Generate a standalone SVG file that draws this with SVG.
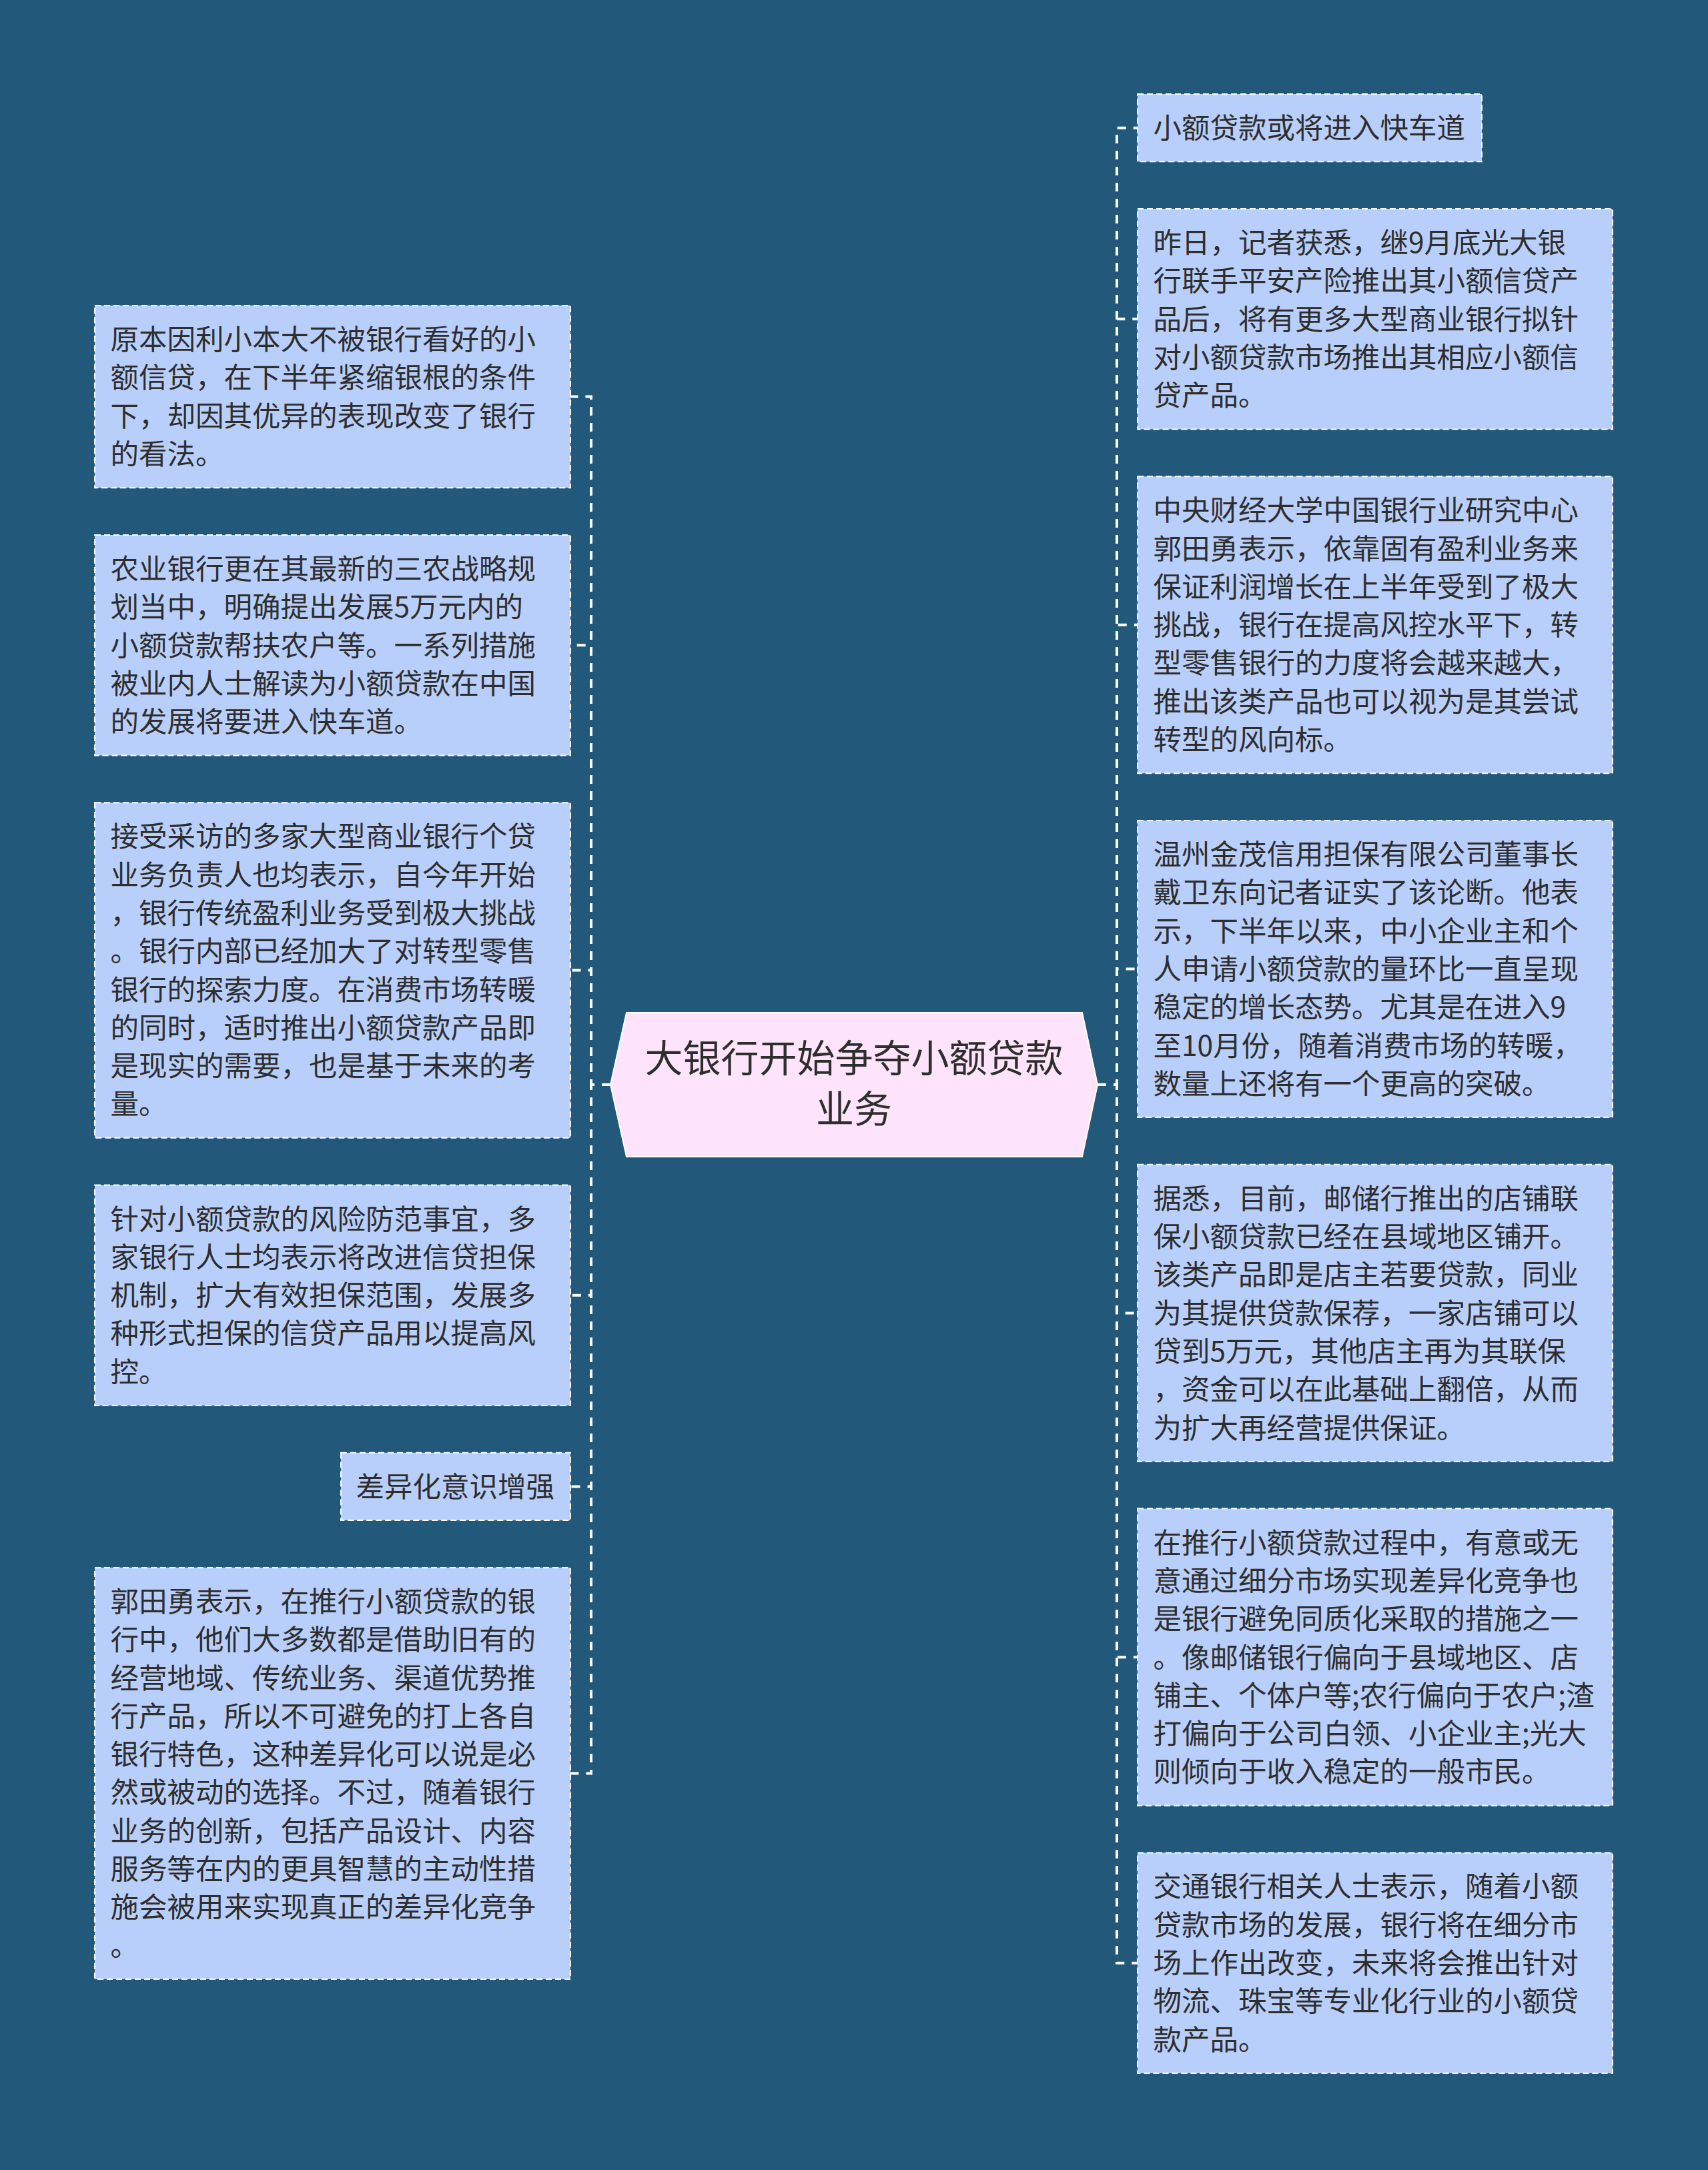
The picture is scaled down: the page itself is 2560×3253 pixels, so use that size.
<svg xmlns="http://www.w3.org/2000/svg" width="2560" height="3253" viewBox="0 0 2560 3253">
<style>
.box{fill:#B9CFFB;stroke:#FFFFFF;stroke-width:2;stroke-dasharray:9 5}
.t{font-family:"Noto Sans CJK SC","Noto Sans",sans-serif;font-size:42.5px;fill:#2E2E2E}
.ct{font-family:"Noto Sans CJK SC","Noto Sans",sans-serif;font-size:57px;fill:#2E2E2E;text-anchor:middle}
.c{fill:none;stroke:#FFFFFF;stroke-width:4;stroke-dasharray:13 11}
</style>
<rect x="0" y="0" width="2560" height="3253" fill="#22587A"/>
<g id="connectors">
<path class="c" d="M915,1626 H886 V594.6 H855"/>
<path class="c" d="M915,1626 H886 V967.3 H855"/>
<path class="c" d="M915,1626 H886 V1454.5 H855"/>
<path class="c" d="M915,1626 H886 V1941.8 H855"/>
<path class="c" d="M915,1626 H886 V2228.5 H855"/>
<path class="c" d="M915,1626 H886 V2658.4 H855"/>
<path class="c" d="M1645,1626 H1674 V191.7 H1705"/>
<path class="c" d="M1645,1626 H1674 V478.3 H1705"/>
<path class="c" d="M1645,1626 H1674 V936.8 H1705"/>
<path class="c" d="M1645,1626 H1674 V1452.6 H1705"/>
<path class="c" d="M1645,1626 H1674 V1968.4 H1705"/>
<path class="c" d="M1645,1626 H1674 V2484.2 H1705"/>
<path class="c" d="M1645,1626 H1674 V2942.7 H1705"/>
</g>
<g id="center">
<polygon points="915,1626 939,1518 1622,1518 1645,1626 1622,1734 939,1734" fill="#FEE4FB" stroke="#FFFFFF" stroke-width="2"/>
<text class="ct" x="1280" y="1607">大银行开始争夺小额贷款</text>
<text class="ct" x="1280" y="1683">业务</text>
</g>
<g id="L1">
<rect class="box" x="142" y="458" width="713" height="273.2"/>
<text class="t" x="165.5" y="524">原本因利小本大不被银行看好的小</text>
<text class="t" x="165.5" y="581.3">额信贷，在下半年紧缩银根的条件</text>
<text class="t" x="165.5" y="638.6">下，却因其优异的表现改变了银行</text>
<text class="t" x="165.5" y="695.9">的看法。</text>
</g>
<g id="L2">
<rect class="box" x="142" y="802" width="713" height="330.5"/>
<text class="t" x="165.5" y="868">农业银行更在其最新的三农战略规</text>
<text class="t" x="165.5" y="925.3">划当中，明确提出发展5万元内的</text>
<text class="t" x="165.5" y="982.6">小额贷款帮扶农户等。一系列措施</text>
<text class="t" x="165.5" y="1039.9">被业内人士解读为小额贷款在中国</text>
<text class="t" x="165.5" y="1097.2">的发展将要进入快车道。</text>
</g>
<g id="L3">
<rect class="box" x="142" y="1203.3" width="713" height="502.4"/>
<text class="t" x="165.5" y="1269.3">接受采访的多家大型商业银行个贷</text>
<text class="t" x="165.5" y="1326.6">业务负责人也均表示，自今年开始</text>
<text class="t" x="165.5" y="1383.9">，银行传统盈利业务受到极大挑战</text>
<text class="t" x="165.5" y="1441.2">。银行内部已经加大了对转型零售</text>
<text class="t" x="165.5" y="1498.5">银行的探索力度。在消费市场转暖</text>
<text class="t" x="165.5" y="1555.8">的同时，适时推出小额贷款产品即</text>
<text class="t" x="165.5" y="1613.1">是现实的需要，也是基于未来的考</text>
<text class="t" x="165.5" y="1670.4">量。</text>
</g>
<g id="L4">
<rect class="box" x="142" y="1776.5" width="713" height="330.5"/>
<text class="t" x="165.5" y="1842.5">针对小额贷款的风险防范事宜，多</text>
<text class="t" x="165.5" y="1899.8">家银行人士均表示将改进信贷担保</text>
<text class="t" x="165.5" y="1957.1">机制，扩大有效担保范围，发展多</text>
<text class="t" x="165.5" y="2014.4">种形式担保的信贷产品用以提高风</text>
<text class="t" x="165.5" y="2071.7">控。</text>
</g>
<g id="L5">
<rect class="box" x="511" y="2177.8" width="344" height="101.3"/>
<text class="t" x="533.5" y="2243.8">差异化意识增强</text>
</g>
<g id="L6">
<rect class="box" x="142" y="2349.9" width="713" height="617"/>
<text class="t" x="165.5" y="2415.9">郭田勇表示，在推行小额贷款的银</text>
<text class="t" x="165.5" y="2473.2">行中，他们大多数都是借助旧有的</text>
<text class="t" x="165.5" y="2530.5">经营地域、传统业务、渠道优势推</text>
<text class="t" x="165.5" y="2587.8">行产品，所以不可避免的打上各自</text>
<text class="t" x="165.5" y="2645.1">银行特色，这种差异化可以说是必</text>
<text class="t" x="165.5" y="2702.4">然或被动的选择。不过，随着银行</text>
<text class="t" x="165.5" y="2759.7">业务的创新，包括产品设计、内容</text>
<text class="t" x="165.5" y="2817">服务等在内的更具智慧的主动性措</text>
<text class="t" x="165.5" y="2874.3">施会被用来实现真正的差异化竞争</text>
<text class="t" x="165.5" y="2931.6">。</text>
</g>
<g id="R1">
<rect class="box" x="1705" y="141" width="516" height="101.3"/>
<text class="t" x="1728.5" y="207">小额贷款或将进入快车道</text>
</g>
<g id="R2">
<rect class="box" x="1705" y="313" width="712" height="330.5"/>
<text class="t" x="1728.5" y="379">昨日，记者获悉，继9月底光大银</text>
<text class="t" x="1728.5" y="436.3">行联手平安产险推出其小额信贷产</text>
<text class="t" x="1728.5" y="493.6">品后，将有更多大型商业银行拟针</text>
<text class="t" x="1728.5" y="550.9">对小额贷款市场推出其相应小额信</text>
<text class="t" x="1728.5" y="608.2">贷产品。</text>
</g>
<g id="R3">
<rect class="box" x="1705" y="714.2" width="712" height="445.1"/>
<text class="t" x="1728.5" y="780.2">中央财经大学中国银行业研究中心</text>
<text class="t" x="1728.5" y="837.5">郭田勇表示，依靠固有盈利业务来</text>
<text class="t" x="1728.5" y="894.8">保证利润增长在上半年受到了极大</text>
<text class="t" x="1728.5" y="952.1">挑战，银行在提高风控水平下，转</text>
<text class="t" x="1728.5" y="1009.4">型零售银行的力度将会越来越大，</text>
<text class="t" x="1728.5" y="1066.7">推出该类产品也可以视为是其尝试</text>
<text class="t" x="1728.5" y="1124">转型的风向标。</text>
</g>
<g id="R4">
<rect class="box" x="1705" y="1230" width="712" height="445.1"/>
<text class="t" x="1728.5" y="1296">温州金茂信用担保有限公司董事长</text>
<text class="t" x="1728.5" y="1353.3">戴卫东向记者证实了该论断。他表</text>
<text class="t" x="1728.5" y="1410.6">示，下半年以来，中小企业主和个</text>
<text class="t" x="1728.5" y="1467.9">人申请小额贷款的量环比一直呈现</text>
<text class="t" x="1728.5" y="1525.2">稳定的增长态势。尤其是在进入9</text>
<text class="t" x="1728.5" y="1582.5">至10月份，随着消费市场的转暖，</text>
<text class="t" x="1728.5" y="1639.8">数量上还将有一个更高的突破。</text>
</g>
<g id="R5">
<rect class="box" x="1705" y="1745.8" width="712" height="445.1"/>
<text class="t" x="1728.5" y="1811.8">据悉，目前，邮储行推出的店铺联</text>
<text class="t" x="1728.5" y="1869.1">保小额贷款已经在县域地区铺开。</text>
<text class="t" x="1728.5" y="1926.4">该类产品即是店主若要贷款，同业</text>
<text class="t" x="1728.5" y="1983.7">为其提供贷款保荐，一家店铺可以</text>
<text class="t" x="1728.5" y="2041">贷到5万元，其他店主再为其联保</text>
<text class="t" x="1728.5" y="2098.3">，资金可以在此基础上翻倍，从而</text>
<text class="t" x="1728.5" y="2155.6">为扩大再经营提供保证。</text>
</g>
<g id="R6">
<rect class="box" x="1705" y="2261.6" width="712" height="445.1"/>
<text class="t" x="1728.5" y="2327.6">在推行小额贷款过程中，有意或无</text>
<text class="t" x="1728.5" y="2384.9">意通过细分市场实现差异化竞争也</text>
<text class="t" x="1728.5" y="2442.2">是银行避免同质化采取的措施之一</text>
<text class="t" x="1728.5" y="2499.5">。像邮储银行偏向于县域地区、店</text>
<text class="t" x="1728.5" y="2556.8">铺主、个体户等;农行偏向于农户;渣</text>
<text class="t" x="1728.5" y="2614.1">打偏向于公司白领、小企业主;光大</text>
<text class="t" x="1728.5" y="2671.4">则倾向于收入稳定的一般市民。</text>
</g>
<g id="R7">
<rect class="box" x="1705" y="2777.4" width="712" height="330.5"/>
<text class="t" x="1728.5" y="2843.4">交通银行相关人士表示，随着小额</text>
<text class="t" x="1728.5" y="2900.7">贷款市场的发展，银行将在细分市</text>
<text class="t" x="1728.5" y="2958">场上作出改变，未来将会推出针对</text>
<text class="t" x="1728.5" y="3015.3">物流、珠宝等专业化行业的小额贷</text>
<text class="t" x="1728.5" y="3072.6">款产品。</text>
</g>
</svg>
